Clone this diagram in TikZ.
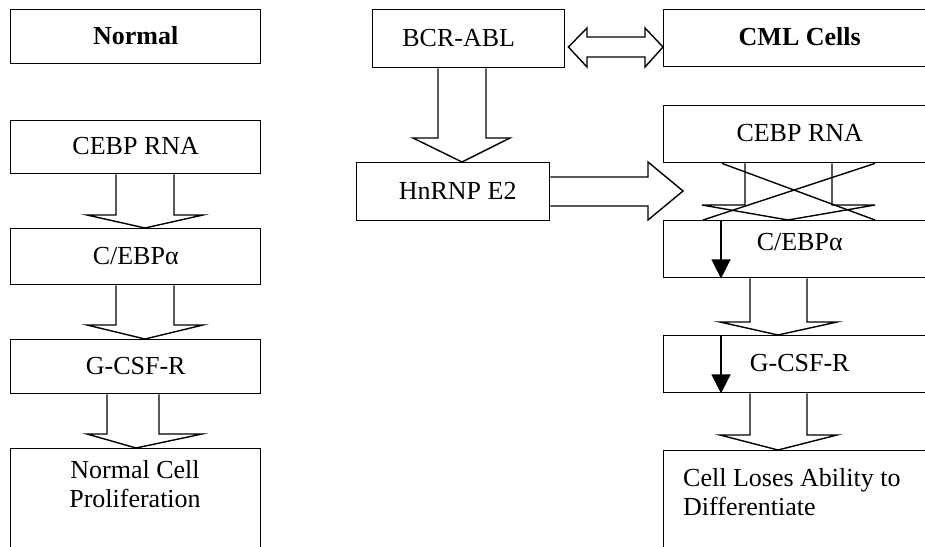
\documentclass[tikz,border=0pt]{standalone}
\usepackage{fontspec}
\setmainfont{Liberation Serif}
\usetikzlibrary{arrows.meta}
\newcommand{\fsz}{\fontsize{26}{29}\selectfont}
% down block arrow: from, to, shaftL, shaftR, headL, headR, headY, tipX
\newcommand{\blkdown}[8]{%
  \draw[blk] (#3,0 |- #1.south) -- (#3,#7) -- (#5,#7) -- (#8,0 |- #2.north) -- (#6,#7) -- (#4,#7) -- (#4,0 |- #1.south);}
\begin{document}
\begin{tikzpicture}[x=1pt,y=-1pt,
  box/.style={draw, line width=1.4pt, rectangle, inner sep=0pt, anchor=north west,
    font=\fsz, text height=17pt, text depth=2pt},
  blk/.style={draw, line width=1.4pt, line join=miter},
  txt/.style={font=\fsz, inner sep=0pt},
  thin/.style={line width=1.4pt, -{Triangle[width=19pt,length=19pt]}}]
\useasboundingbox (0,0) rectangle (925,546);
\clip (0,0) rectangle (925,546);
% left column
\node[box, minimum width=250pt, minimum height=54pt] (normal) at (10,9) {\bfseries Normal};
\node[box, minimum width=250pt, minimum height=53pt] (cebpL) at (10,120) {CEBP RNA};
\node[box, minimum width=250pt, minimum height=56pt] (cebpaL) at (10,228) {C/EBPα};
\node[box, minimum width=250pt, minimum height=54pt] (gcsfL) at (10,339) {G-CSF-R};
\node[box, minimum width=250pt, minimum height=120pt, text height=, text depth=] (prolif) at (10,448) {};
\node[txt, align=center, anchor=north] (prolifT) at (135,460) {Normal Cell\\Proliferation};
\blkdown{cebpL}{cebpaL}{116}{174}{87}{203}{215}{145}
\blkdown{cebpaL}{gcsfL}{116}{174}{87}{203}{325}{145}
\blkdown{gcsfL}{prolif}{107}{159}{87}{202}{434}{136}
% right part
\node[box, minimum width=192pt, minimum height=58pt] (bcr) at (372,9) {BCR-ABL\hspace*{20pt}};
\node[box, minimum width=272pt, minimum height=57pt] (cml) at (663,9) {\bfseries CML Cells};
\node[box, minimum width=193pt, minimum height=58pt] (hnrnp) at (356,162) {\hspace*{9pt}HnRNP E2};
\node[box, minimum width=272pt, minimum height=57pt] (cebpR) at (663,105) {CEBP RNA};
\node[box, minimum width=272pt, minimum height=57pt, text depth=14pt] (cebpaR) at (663,220) {C/EBPα};
\node[box, minimum width=272pt, minimum height=57pt] (gcsfR) at (663,335) {G-CSF-R};
\node[box, minimum width=272pt, minimum height=120pt, text height=, text depth=] (loses) at (663,450) {};
\node[txt, align=left, anchor=north west] (losesT) at (683,468) {Cell Loses Ability to\\Differentiate};
% BCR-ABL down to HnRNP
\blkdown{bcr}{hnrnp}{438}{486}{413}{510}{138}{462}
% double arrow
\draw[blk] (bcr.east |- 0,47) ++(3,0) coordinate (dl) -- (587,28) -- (587,37) -- (645,37) -- (645,28) -- (cml.west |- 0,47) -- (645,67) -- (645,57) -- (587,57) -- (587,67) -- cycle;
% HnRNP right arrow
\draw[blk] (hnrnp.east |- 0,177) -- (648,177) -- (648,162) -- (683,191) coordinate (hr) -- (648,220) -- (648,206) -- (hnrnp.east |- 0,206);
% crossed arrow CEBP RNA -> C/EBPa
\draw[blk] (745,0 |- cebpR.south) -- (745,205) -- (702,205) -- (788,0 |- cebpaR.north) -- (875,205) -- (832,205) -- (832,0 |- cebpR.south);
\draw[line width=1.4pt] (722,0 |- cebpR.south) -- (875,0 |- cebpaR.north);
\draw[line width=1.4pt] (875,0 |- cebpR.south) -- (703,0 |- cebpaR.north);
% black arrows
\draw[thin] (721,0 |- cebpaR.north) -- (721,0 |- cebpaR.south);
\draw[thin] (721,0 |- gcsfR.north) -- (721,0 |- gcsfR.south);
% right column block arrows
\blkdown{cebpaR}{gcsfR}{750}{807}{720}{837}{322}{778}
\blkdown{gcsfR}{loses}{750}{807}{720}{837}{435}{778}
\end{tikzpicture}
\end{document}
